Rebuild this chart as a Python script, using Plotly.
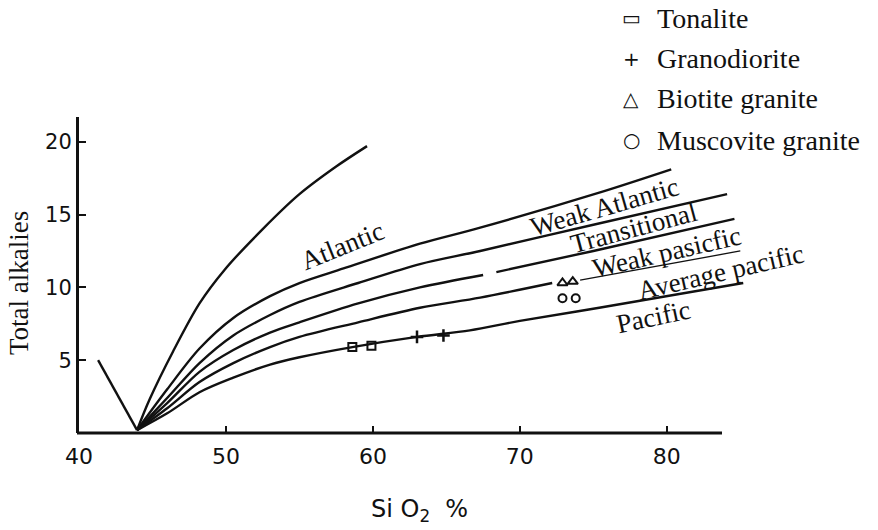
import plotly.graph_objects as go

# ---------------- data ----------------
v_x = [41.3, 43.95]
v_y = [5.0, 0.2]

atlantic_x = [43.95, 44.8, 46.4, 48.2, 49.9, 52.5, 55.0, 57.5, 59.6]
atlantic_y = [0.2, 2.3, 5.6, 8.9, 11.2, 14.0, 16.4, 18.3, 19.7]

weak_atl_x = [43.95, 46.0, 48.2, 50.5, 53.0, 55.0, 58.0, 63.2, 67.3, 75.4, 80.3]
weak_atl_y = [0.2, 3.0, 5.8, 7.9, 9.4, 10.3, 11.3, 13.0, 14.1, 16.5, 18.1]

trans_x = [43.95, 46.0, 48.2, 50.5, 53.0, 55.0, 59.0, 63.2, 67.3, 75.0, 84.1]
trans_y = [0.2, 2.4, 4.8, 6.7, 8.1, 9.0, 10.3, 11.6, 12.5, 14.3, 16.4]

weak_pac_x = [43.95, 46.0, 48.2, 50.5, 53.0, 55.0, 59.0, 63.2, 67.5, None, 68.4, 75.0, 84.6]
weak_pac_y = [0.2, 2.05, 4.2, 5.7, 6.9, 7.6, 8.9, 10.0, 10.85, None, 11.05, 12.5, 14.7]

avg_pac_x = [43.95, 46.0, 48.2, 50.5, 53.0, 55.0, 59.0, 63.2, 67.3, 72.2]
avg_pac_y = [0.2, 1.7, 3.5, 4.8, 5.9, 6.6, 7.6, 8.6, 9.3, 10.3]
avg_pac_tail_x = [74.1, 85.0]
avg_pac_tail_y = [10.5, 12.5]

pacific_x = [43.95, 46.0, 48.2, 50.5, 53.0, 55.0, 58.6, 63.0, 66.6, 70.0, 75.4, 85.2]
pacific_y = [0.2, 1.35, 2.8, 3.8, 4.7, 5.2, 5.9, 6.6, 7.05, 7.7, 8.6, 10.3]

tonalite_x = [58.6, 59.9]
tonalite_y = [5.9, 6.0]
granodiorite_x = [63.0, 64.8]
granodiorite_y = [6.6, 6.7]
biotite_x = [72.9, 73.6]
biotite_y = [10.3, 10.4]
muscovite_x = [72.9, 73.8]
muscovite_y = [9.25, 9.25]

x_ticks = [40, 50, 60, 70, 80]
y_ticks = [5, 10, 15, 20]

curve_labels = ["Atlantic", "Weak Atlantic", "Transitional", "Weak pasicfic",
                "Average pacific", "Pacific"]
legend_symbols = ["\u25ad", "+", "\u25b3", "\u25cb"]
legend_labels = ["Tonalite", "Granodiorite", "Biotite granite", "Muscovite granite"]

# ---------------- layout geometry ----------------
W, H = 878, 530
L, R, T, B = 79, 123, 117, 97
PX0, PX1 = L, W - R
PY0, PY1 = T, H - B


def paper(px, py):
    return (px - PX0) / (PX1 - PX0), (PY1 - py) / (PY1 - PY0)


INK = "#111111"
SERIF = "Liberation Serif"
SANS = "DejaVu Sans"

fig = go.Figure()


def add_line(x, y, w=2.4, shape="spline"):
    fig.add_trace(go.Scatter(x=x, y=y, mode="lines", connectgaps=False,
                             line=dict(color=INK, width=w, shape=shape, smoothing=0.9),
                             showlegend=False, hoverinfo="skip"))


add_line(v_x, v_y, shape="linear")
add_line(atlantic_x, atlantic_y)
add_line(weak_atl_x, weak_atl_y)
add_line(trans_x, trans_y)
add_line(weak_pac_x, weak_pac_y)
add_line(avg_pac_x, avg_pac_y)
add_line(avg_pac_tail_x, avg_pac_tail_y, w=1.3, shape="linear")
add_line(pacific_x, pacific_y)


def add_markers(x, y, symbol, size, lw=2.0):
    fig.add_trace(go.Scatter(x=x, y=y, mode="markers",
                             marker=dict(symbol=symbol, size=size, color=INK,
                                         line=dict(color=INK, width=lw)),
                             showlegend=False, hoverinfo="skip", cliponaxis=False))


add_markers(tonalite_x, tonalite_y, "square-open", 8)
add_markers(granodiorite_x, granodiorite_y, "cross-thin-open", 9, 2.5)
add_markers(biotite_x, biotite_y, "triangle-up-open", 9)
add_markers(muscovite_x, muscovite_y, "circle-open", 8)

annotations = []

# curve labels: (center px, center py, angle)
label_pos = [(342, 246, -22), (604, 207, -16), (634, 228, -15),
             (667, 252, -13), (721, 272, -13), (653, 317, -12)]
for text, (px, py, ang) in zip(curve_labels, label_pos):
    ax_, ay_ = paper(px, py)
    annotations.append(dict(x=ax_, y=ay_, xref="paper", yref="paper", text=text,
                            showarrow=False, textangle=ang, xanchor="center",
                            yanchor="middle", font=dict(family=SERIF, size=27, color=INK)))

# legend
rows = [18, 59, 99, 140]
for sym, lab, py in zip(legend_symbols, legend_labels, rows):
    sx, sy = paper(631, py)
    tx, ty = paper(655, py)
    annotations.append(dict(x=sx, y=sy, xref="paper", yref="paper", text=sym,
                            showarrow=False, xanchor="center", yanchor="middle",
                            font=dict(family=SANS, size=20, color=INK)))
    annotations.append(dict(x=tx, y=ty, xref="paper", yref="paper", text=lab,
                            showarrow=False, xanchor="left", yanchor="middle",
                            font=dict(family=SERIF, size=28, color=INK)))

# axis titles
yx, yy = paper(19, 283)
annotations.append(dict(x=yx, y=yy, xref="paper", yref="paper", text="Total alkalies",
                        showarrow=False, textangle=-90, xanchor="center", yanchor="middle",
                        font=dict(family=SERIF, size=27, color=INK)))
xx, xy = paper(419, 510)
annotations.append(dict(x=xx, y=xy, xref="paper", yref="paper",
                        text="Si O<sub>2</sub>  %",
                        showarrow=False, xanchor="center", yanchor="middle",
                        font=dict(family=SANS, size=24, color=INK)))

# x-axis line (ends short of the curve ends)
x_end, _ = paper(722, PY1)
x_start, _ = paper(77, PY1)

fig.update_layout(
    width=W, height=H,
    margin=dict(l=L, r=R, t=T, b=B, pad=0),
    paper_bgcolor="white", plot_bgcolor="white",
    showlegend=False,
    annotations=annotations,
    shapes=[dict(type="line", xref="paper", yref="paper", x0=x_start, x1=x_end,
                 y0=0, y1=0, line=dict(color=INK, width=3))],
    xaxis=dict(range=[40, 86], showline=False, showgrid=False, zeroline=False,
               tickmode="array", tickvals=x_ticks, ticktext=[str(v) for v in x_ticks],
               ticks="inside", ticklen=7, tickwidth=2, tickcolor=INK,
               tickfont=dict(family=SANS, size=22, color=INK), ticklabelstandoff=8),
    yaxis=dict(range=[0, 21.7], showline=True, linewidth=3, linecolor=INK,
               showgrid=False, zeroline=False,
               tickmode="array", tickvals=y_ticks, ticktext=[str(v) for v in y_ticks],
               ticks="inside", ticklen=7, tickwidth=2, tickcolor=INK,
               tickfont=dict(family=SANS, size=21, color=INK)),
)

fig.write_html("out.html")
